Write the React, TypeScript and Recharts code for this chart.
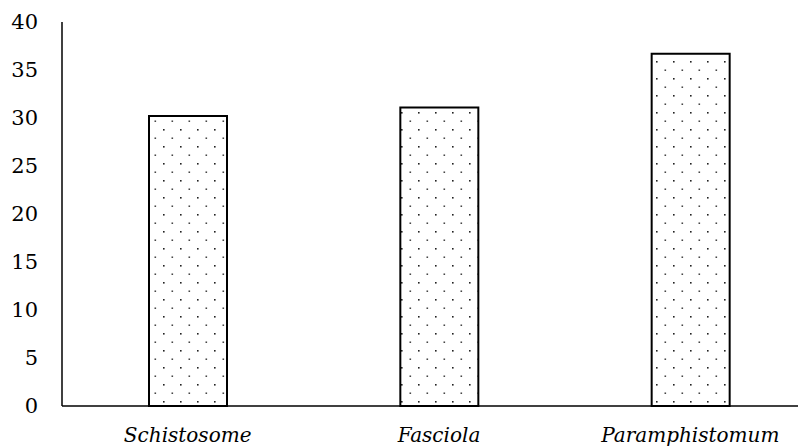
import { BarChart, Bar, XAxis, YAxis } from "recharts";

const categories = ["Schistosome", "Fasciola", "Paramphistomum"];
const prevalence = [30.2, 31.1, 36.7];
const yTicks = [0, 5, 10, 15, 20, 25, 30, 35, 40];

const data = categories.map((name, i) => ({ name, value: prevalence[i] }));

// Liberation Serif doesn't resolve here, DejaVu Serif does
const FONT = "'DejaVu Serif', serif";

const App = () => {
  return (
    <div style={{ width: 798, height: 440, overflow: "hidden" }}>
      <BarChart
        width={808}
        height={440}
        data={data}
        margin={{ top: 14, right: 0, bottom: 0, left: 0 }}
      >
        <defs>
          <pattern
            id="dots"
            patternUnits="userSpaceOnUse"
            width={17}
            height={17}
          >
            <rect width={17} height={17} fill="#fff" />
            <rect x={2} y={2} width={1.6} height={1.6} fill="#222" />
            <rect x={10.5} y={10.5} width={1.6} height={1.4} fill="#333" />
          </pattern>
        </defs>
        <XAxis
          dataKey="name"
          axisLine={{ stroke: "#000", strokeWidth: 1.5 }}
          tickLine={false}
          tickSize={0}
          tickMargin={22}
          height={42}
          tick={{ fill: "#000", fontSize: 20, fontFamily: FONT, fontStyle: "italic" }}
        />
        <YAxis
          domain={[0, 40]}
          ticks={yTicks}
          interval={0}
          width={54}
          axisLine={{ stroke: "#000", strokeWidth: 1.5 }}
          tickLine={false}
          tickSize={0}
          tickMargin={24}
          tick={{ fill: "#000", fontSize: 21, fontFamily: FONT }}
        />
        <Bar
          dataKey="value"
          barSize={78}
          fill="url(#dots)"
          stroke="#000"
          strokeWidth={2}
          isAnimationActive={false}
        />
      </BarChart>
    </div>
  );
};

export default App;
